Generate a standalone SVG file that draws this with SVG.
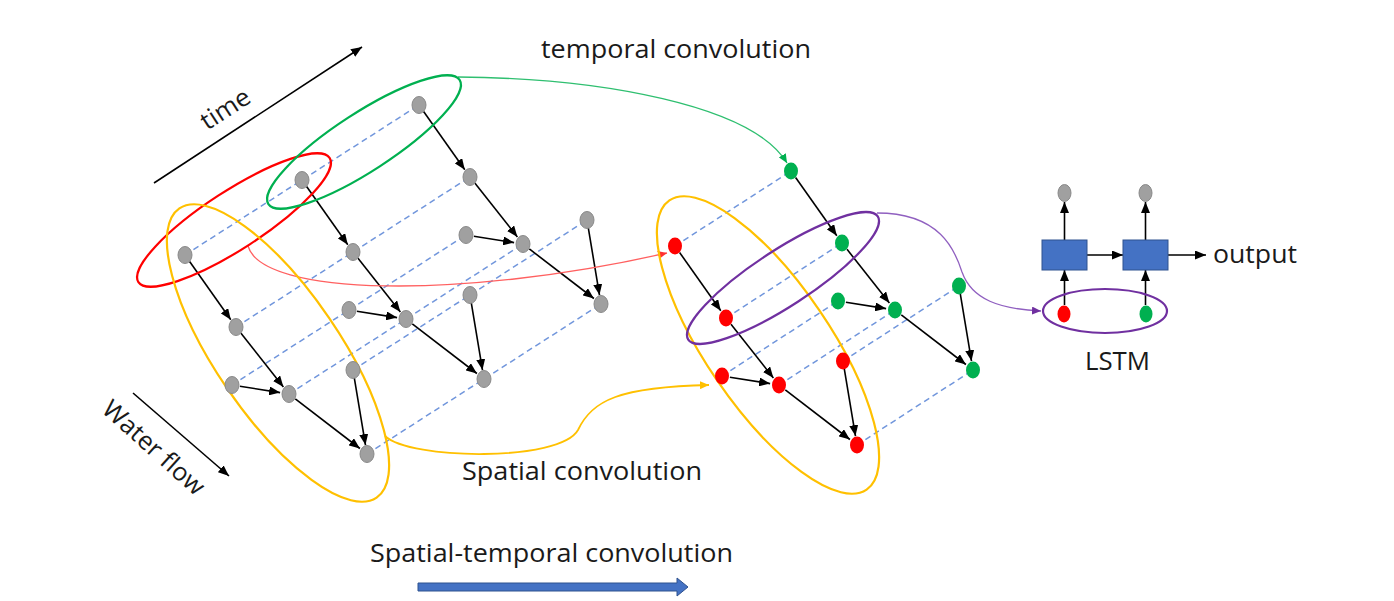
<svg xmlns="http://www.w3.org/2000/svg" width="1394" height="601" viewBox="0 0 1394 601">
<style>
text{font-family:"Open Sans","Noto Sans",sans-serif;fill:#1a1a1a;font-size:25px}
.g{fill:#a0a0a0;stroke:#8a8a8a;stroke-width:1}
.r{fill:#ff0000}
.gr{fill:#00b050}
.e{stroke:#000;stroke-width:1.6;fill:none;marker-end:url(#ah)}
.d{stroke:#7196dc;stroke-width:1.5;stroke-dasharray:6,4;fill:none}
.ring{fill:none;stroke-width:2.2}
</style>
<defs>
<marker id="ah" markerUnits="userSpaceOnUse" markerWidth="11" markerHeight="9" refX="11" refY="4.5" orient="auto"><path d="M0,0 L11,4.5 L0,9 Z" fill="#000"/></marker>
<marker id="ahG" markerUnits="userSpaceOnUse" markerWidth="9" markerHeight="8" refX="9" refY="4" orient="auto"><path d="M0,0 L9,4 L0,8 Z" fill="#00b050"/></marker>
<marker id="ahR" markerUnits="userSpaceOnUse" markerWidth="9" markerHeight="8" refX="9" refY="4" orient="auto"><path d="M0,0 L9,4 L0,8 Z" fill="#ff3030"/></marker>
<marker id="ahY" markerUnits="userSpaceOnUse" markerWidth="9" markerHeight="8" refX="9" refY="4" orient="auto"><path d="M0,0 L9,4 L0,8 Z" fill="#ffc000"/></marker>
<marker id="ahP" markerUnits="userSpaceOnUse" markerWidth="9" markerHeight="8" refX="9" refY="4" orient="auto"><path d="M0,0 L9,4 L0,8 Z" fill="#7030a0"/></marker>
</defs>
<rect width="1394" height="601" fill="#fff"/>

<!-- dashed time links -->
<g id="dashed">
<line class="d" x1="185" y1="255" x2="419" y2="105"/>
<line class="d" x1="236" y1="327" x2="470" y2="177"/>
<line class="d" x1="232" y1="385" x2="466" y2="235"/>
<line class="d" x1="289" y1="394" x2="523" y2="244"/>
<line class="d" x1="353" y1="370" x2="587" y2="220"/>
<line class="d" x1="367" y1="454" x2="601" y2="304"/>
<line class="d" x1="675" y1="246" x2="791" y2="171"/>
<line class="d" x1="726" y1="318" x2="842" y2="243"/>
<line class="d" x1="722" y1="376" x2="838" y2="301"/>
<line class="d" x1="779" y1="385" x2="895" y2="310"/>
<line class="d" x1="843" y1="361" x2="959" y2="286"/>
<line class="d" x1="857" y1="445" x2="973" y2="370"/>
</g>

<!-- connectors -->
<g id="connectors">
<g id="edges-slice1">
<path class="e" d="M189.6,261.5 L230.8,319.7"/><path class="e" d="M241,333.3 L283.4,386.9"/><path class="e" d="M239.9,386.2 L280.1,392.6"/><path class="e" d="M295.3,398.9 L359.9,448.5"/><path class="e" d="M354.3,377.9 L365.5,445.1"/>
</g>
<g id="edges-slice2" transform="translate(117,-75)">
<path class="e" d="M189.6,261.5 L230.8,319.7"/><path class="e" d="M241,333.3 L283.4,386.9"/><path class="e" d="M239.9,386.2 L280.1,392.6"/><path class="e" d="M295.3,398.9 L359.9,448.5"/><path class="e" d="M354.3,377.9 L365.5,445.1"/>
</g>
<g id="edges-slice3" transform="translate(234,-150)">
<path class="e" d="M189.6,261.5 L230.8,319.7"/><path class="e" d="M241,333.3 L283.4,386.9"/><path class="e" d="M239.9,386.2 L280.1,392.6"/><path class="e" d="M295.3,398.9 L359.9,448.5"/><path class="e" d="M354.3,377.9 L365.5,445.1"/>
</g>
<g id="edges-red" transform="translate(490,-9)">
<path class="e" d="M189.6,261.5 L230.8,319.7"/><path class="e" d="M241,333.3 L283.4,386.9"/><path class="e" d="M239.9,386.2 L280.1,392.6"/><path class="e" d="M295.3,398.9 L359.9,448.5"/><path class="e" d="M354.3,377.9 L365.5,445.1"/>
</g>
<g id="edges-green" transform="translate(606,-84)">
<path class="e" d="M189.6,261.5 L230.8,319.7"/><path class="e" d="M241,333.3 L283.4,386.9"/><path class="e" d="M239.9,386.2 L280.1,392.6"/><path class="e" d="M295.3,398.9 L359.9,448.5"/><path class="e" d="M354.3,377.9 L365.5,445.1"/>
</g>
<path id="c-temporal" d="M458,77 C600,78 752,105 787,163" fill="none" stroke="#2fbf70" stroke-width="1.4" marker-end="url(#ahG)"/>
<path id="c-red" d="M248,246 C262,296 460,300 667,253" fill="none" stroke="#ff6060" stroke-width="1.3" marker-end="url(#ahR)"/>
<path id="c-spatial" d="M385,436 C410,460 560,462 578,430 C592,400 620,387 709,385" fill="none" stroke="#ffc000" stroke-width="1.8" marker-end="url(#ahY)"/>
<path id="c-lstm" d="M877,213 C940,213 955,250 962,272 C972,300 1000,309 1041,311" fill="none" stroke="#9060c0" stroke-width="1.3" marker-end="url(#ahP)"/>
<path class="e" d="M1064.5,240 L1064.5,202"/>
<path class="e" d="M1145.5,240 L1145.5,202"/>
<path class="e" d="M1064.5,305 L1064.5,270"/>
<path class="e" d="M1145.5,305 L1145.5,270"/>
<path class="e" d="M1087,255 L1123,255"/>
<path class="e" d="M1168,255 L1206,255"/>
<path id="time-arrow" class="e" d="M154,183 L362,47"/>
<path id="flow-arrow" class="e" d="M133,393 L229,476"/>
<path id="st-arrow" d="M418,583 L677,583 L677,578 L688,587 L677,596 L677,591 L418,591 Z" fill="#4472c4" stroke="#2f528f" stroke-width="1"/>
</g>

<!-- ellipses -->
<g id="groupings">
<ellipse id="ring-red" class="ring" stroke="#ff0000" cx="234" cy="220" rx="114" ry="29" transform="rotate(-33 234 220)"/>
<ellipse id="ring-green" class="ring" stroke="#00b050" cx="364" cy="142" rx="114" ry="29" transform="rotate(-33 364 142)"/>
<ellipse id="ring-yellow-left" class="ring" stroke="#ffc000" cx="278" cy="353" rx="175" ry="62" transform="rotate(55.7 278 353)"/>
<ellipse id="ring-yellow-right" class="ring" stroke="#ffc000" cx="768" cy="345" rx="175" ry="62" transform="rotate(55.7 768 345)"/>
<ellipse id="ring-purple" class="ring" stroke="#7030a0" cx="783" cy="278" rx="113" ry="28" transform="rotate(-33 783 278)"/>
<ellipse id="ring-lstm" class="ring" stroke="#7030a0" cx="1105" cy="311" rx="62" ry="22"/>
</g>

<!-- gray nodes -->
<g id="n1a"><ellipse class="g" cx="185" cy="255" rx="7" ry="8.5"/></g>
<g id="n1b"><ellipse class="g" cx="236" cy="327" rx="7" ry="8.5"/></g>
<g id="n1c"><ellipse class="g" cx="232" cy="385" rx="7" ry="8.5"/></g>
<g id="n1d"><ellipse class="g" cx="289" cy="394" rx="7" ry="8.5"/></g>
<g id="n1e"><ellipse class="g" cx="353" cy="370" rx="7" ry="8.5"/></g>
<g id="n1f"><ellipse class="g" cx="367" cy="454" rx="7" ry="8.5"/></g>
<g id="n2a"><ellipse class="g" cx="302" cy="180" rx="7" ry="8.5"/></g>
<g id="n2b"><ellipse class="g" cx="353" cy="252" rx="7" ry="8.5"/></g>
<g id="n2c"><ellipse class="g" cx="349" cy="310" rx="7" ry="8.5"/></g>
<g id="n2d"><ellipse class="g" cx="406" cy="319" rx="7" ry="8.5"/></g>
<g id="n2e"><ellipse class="g" cx="470" cy="295" rx="7" ry="8.5"/></g>
<g id="n2f"><ellipse class="g" cx="484" cy="379" rx="7" ry="8.5"/></g>
<g id="n3a"><ellipse class="g" cx="419" cy="105" rx="7" ry="8.5"/></g>
<g id="n3b"><ellipse class="g" cx="470" cy="177" rx="7" ry="8.5"/></g>
<g id="n3c"><ellipse class="g" cx="466" cy="235" rx="7" ry="8.5"/></g>
<g id="n3d"><ellipse class="g" cx="523" cy="244" rx="7" ry="8.5"/></g>
<g id="n3e"><ellipse class="g" cx="587" cy="220" rx="7" ry="8.5"/></g>
<g id="n3f"><ellipse class="g" cx="601" cy="304" rx="7" ry="8.5"/></g>
<!-- red nodes -->
<g id="r-a"><ellipse class="r" cx="675" cy="246" rx="7" ry="8.5"/></g>
<g id="r-b"><ellipse class="r" cx="726" cy="318" rx="7" ry="8.5"/></g>
<g id="r-c"><ellipse class="r" cx="722" cy="376" rx="7" ry="8.5"/></g>
<g id="r-d"><ellipse class="r" cx="779" cy="385" rx="7" ry="8.5"/></g>
<g id="r-e"><ellipse class="r" cx="843" cy="361" rx="7" ry="8.5"/></g>
<g id="r-f"><ellipse class="r" cx="857" cy="445" rx="7" ry="8.5"/></g>
<!-- green nodes -->
<g id="g-a"><ellipse class="gr" cx="791" cy="171" rx="7" ry="8.5"/></g>
<g id="g-b"><ellipse class="gr" cx="842" cy="243" rx="7" ry="8.5"/></g>
<g id="g-c"><ellipse class="gr" cx="838" cy="301" rx="7" ry="8.5"/></g>
<g id="g-d"><ellipse class="gr" cx="895" cy="310" rx="7" ry="8.5"/></g>
<g id="g-e"><ellipse class="gr" cx="959" cy="286" rx="7" ry="8.5"/></g>
<g id="g-f"><ellipse class="gr" cx="973" cy="370" rx="7" ry="8.5"/></g>
<!-- LSTM -->
<g id="lstm-cell1"><rect x="1042" y="240" width="45" height="30" fill="#4472c4" stroke="#2f528f" stroke-width="1"/></g>
<g id="lstm-cell2"><rect x="1123" y="240" width="45" height="30" fill="#4472c4" stroke="#2f528f" stroke-width="1"/></g>
<g id="lstm-out1"><ellipse class="g" cx="1064.5" cy="193" rx="6.5" ry="8.5"/></g>
<g id="lstm-out2"><ellipse class="g" cx="1145.5" cy="193" rx="6.5" ry="8.5"/></g>
<g id="lstm-in1"><ellipse class="r" cx="1064" cy="314" rx="6.5" ry="8.5"/></g>
<g id="lstm-in2"><ellipse class="gr" cx="1146" cy="314" rx="6.5" ry="8.5"/></g>

<!-- labels -->
<g id="labels">
<text x="541" y="58" textLength="270" lengthAdjust="spacingAndGlyphs">temporal convolution</text>
<text x="462" y="480" textLength="240" lengthAdjust="spacingAndGlyphs">Spatial convolution</text>
<text x="370" y="562" textLength="363" lengthAdjust="spacingAndGlyphs">Spatial-temporal convolution</text>
<text x="1213" y="263" textLength="84" lengthAdjust="spacingAndGlyphs">output</text>
<text x="1085" y="370" textLength="65" lengthAdjust="spacingAndGlyphs">LSTM</text>
<text x="0" y="0" text-anchor="middle" transform="translate(230,116) rotate(-33)" textLength="54" lengthAdjust="spacingAndGlyphs">time</text>
<text x="0" y="0" text-anchor="middle" transform="translate(148,454) rotate(42)" textLength="128" lengthAdjust="spacingAndGlyphs">Water flow</text>
</g>
</svg>
